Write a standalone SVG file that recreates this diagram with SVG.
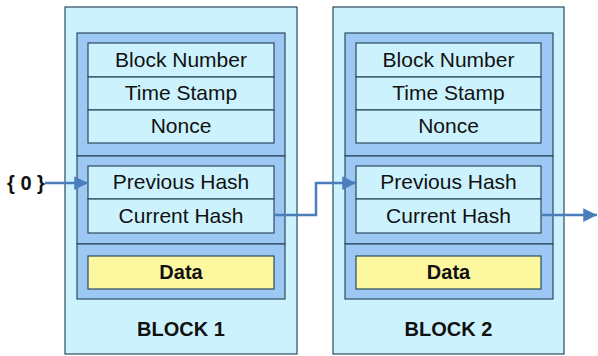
<svg xmlns="http://www.w3.org/2000/svg" width="598" height="356" viewBox="0 0 598 356">
<defs>
<style>
.outer{fill:#ccf3fd;stroke:#2a4a5e;stroke-width:1.2}
.panel{fill:#9dc8f4;stroke:#2a4a5e;stroke-width:1.2}
.cell{fill:#ccf3fd;stroke:#2a4a5e;stroke-width:1.2}
.data{fill:#fdf8a0;stroke:#2a4a5e;stroke-width:1.2}
.t{font-family:"Liberation Sans",Arial,sans-serif;font-size:21px;fill:#111;text-anchor:middle}
.b{font-family:"Liberation Sans",Arial,sans-serif;font-weight:bold;fill:#111;text-anchor:middle}
.conn{fill:none;stroke:#4a7ebb;stroke-width:2.5}
</style>
<marker id="ah" viewBox="0 0 10 10" refX="10" refY="5" markerWidth="6.5" markerHeight="5.5" markerUnits="strokeWidth" orient="auto">
<path d="M0,0 L10,5 L0,10 Z" fill="#4a7ebb"/>
</marker>
</defs>
<g id="block1">
<rect class="outer" x="65" y="7" width="232" height="347"/>
<rect class="panel" x="77" y="33" width="208" height="123"/>
<rect class="panel" x="77" y="156" width="208" height="88"/>
<rect class="panel" x="77" y="244" width="208" height="55"/>
<rect class="cell" x="88" y="43" width="186" height="34"/>
<rect class="cell" x="88" y="77" width="186" height="33"/>
<rect class="cell" x="88" y="110" width="186" height="33"/>
<rect class="cell" x="88" y="166" width="186" height="33"/>
<rect class="cell" x="88" y="199" width="186" height="34"/>
<rect class="data" x="88" y="256" width="186" height="33"/>
<text class="t" x="181" y="67">Block Number</text>
<text class="t" x="181" y="100">Time Stamp</text>
<text class="t" x="181" y="133">Nonce</text>
<text class="t" x="181" y="189">Previous Hash</text>
<text class="t" x="181" y="223">Current Hash</text>
<text class="b" x="181" y="279" font-size="20">Data</text>
<text class="b" x="181" y="336" font-size="20">BLOCK 1</text>
</g>
<g id="block2">
<rect class="outer" x="333" y="7" width="231" height="347"/>
<rect class="panel" x="345" y="33" width="208" height="123"/>
<rect class="panel" x="345" y="156" width="208" height="88"/>
<rect class="panel" x="345" y="244" width="208" height="55"/>
<rect class="cell" x="356" y="43" width="185" height="34"/>
<rect class="cell" x="356" y="77" width="185" height="33"/>
<rect class="cell" x="356" y="110" width="185" height="33"/>
<rect class="cell" x="356" y="166" width="185" height="33"/>
<rect class="cell" x="356" y="199" width="185" height="34"/>
<rect class="data" x="356" y="256" width="185" height="33"/>
<text class="t" x="448.5" y="67">Block Number</text>
<text class="t" x="448.5" y="100">Time Stamp</text>
<text class="t" x="448.5" y="133">Nonce</text>
<text class="t" x="448.5" y="189">Previous Hash</text>
<text class="t" x="448.5" y="223">Current Hash</text>
<text class="b" x="448.5" y="279" font-size="20">Data</text>
<text class="b" x="448.5" y="336" font-size="20">BLOCK 2</text>
</g>
<g id="genesis">
<text class="b" x="26" y="190" font-size="20">{ 0 }</text>
</g>
<g id="connectors">
<path class="conn" d="M45,183 H88" marker-end="url(#ah)"/>
<path class="conn" d="M274,215 H316 V183 H356" marker-end="url(#ah)"/>
<path class="conn" d="M541,215 H597" marker-end="url(#ah)"/>
</g>
</svg>
